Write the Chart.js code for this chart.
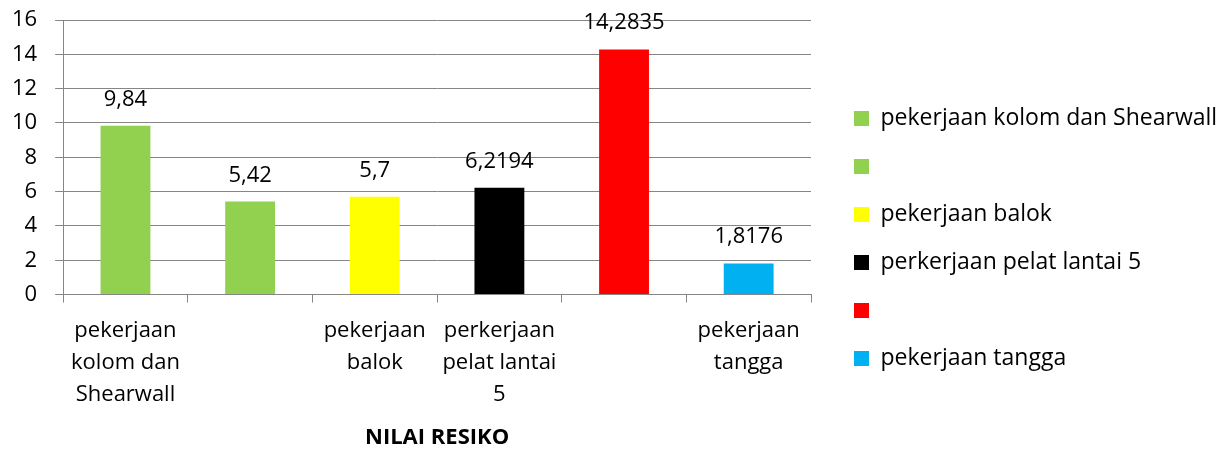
<!DOCTYPE html>
<html>
<head>
<meta charset="utf-8">
<script src="https://cdn.jsdelivr.net/npm/chart.js@4.4.1/dist/chart.umd.min.js"></script>
<style>
  html, body { margin: 0; padding: 0; background: #fff; }
  #wrap { width: 1229px; height: 449px; position: relative; }
</style>
</head>
<body>
<div id="wrap"><canvas id="riskChart"></canvas></div>
<script>
// data
const categories = [
  ['pekerjaan', 'kolom dan', 'Shearwall'],
  '',
  ['pekerjaan', 'balok'],
  ['perkerjaan', 'pelat lantai', '5'],
  '',
  ['pekerjaan', 'tangga']
];
const legendNames = [
  'pekerjaan kolom dan Shearwall',
  '',
  'pekerjaan balok',
  'perkerjaan pelat lantai 5',
  '',
  'pekerjaan tangga'
];
const nilaiResiko = [9.84, 5.42, 5.7, 6.2194, 14.2835, 1.8176];
const valueLabels = ['9,84', '5,42', '5,7', '6,2194', '14,2835', '1,8176'];
const barColors = ['#92D050', '#92D050', '#FFFF00', '#000000', '#FF0000', '#00B0F0'];
const yTicks = [0, 2, 4, 6, 8, 10, 12, 14, 16];

const FONT = "'Open Sans', sans-serif";
const GRID = '#868686';

// values written above each bar
const barValues = {
  id: 'barValues',
  afterDatasetsDraw(chart) {
    const ctx = chart.ctx;
    const meta = chart.getDatasetMeta(0);
    ctx.save();
    ctx.font = '22px ' + FONT;
    ctx.fillStyle = '#000';
    ctx.textAlign = 'center';
    ctx.textBaseline = 'alphabetic';
    meta.data.forEach((bar, i) => {
      ctx.fillText(valueLabels[i], bar.x, bar.y - 20);
    });
    ctx.restore();
  }
};

// legend sits a bit right of and below where chart.js puts it
const legendPlace = {
  id: 'legendPlace',
  beforeLayout(chart) {
    const lg = chart.legend;
    if (lg && !lg._patched) {
      const orig = lg.fit;
      lg.fit = function () { orig.call(this); this.width = 418; };
      lg._patched = true;
    }
  },
  afterLayout(chart) {
    const lg = chart.legend;
    lg.left += 18;
    lg.right += 18;
    lg.top += 13;
    lg.bottom += 13;
  }
};

new Chart(document.getElementById('riskChart'), {
  type: 'bar',
  data: {
    labels: categories,
    datasets: [{
      label: 'NILAI RESIKO',
      data: nilaiResiko,
      backgroundColor: barColors,
      borderWidth: 0,
      barPercentage: 0.4,
      categoryPercentage: 1.0
    }]
  },
  options: {
    responsive: true,
    maintainAspectRatio: false,
    animation: false,
    layout: { padding: { left: -6, top: 0, right: 0, bottom: -2 } },
    plugins: {
      tooltip: { enabled: false },
      legend: {
        position: 'right',
        labels: {
          boxWidth: 15,
          boxHeight: 15,
          padding: 25,
          color: '#000',
          font: { family: FONT, size: 23 },
          generateLabels: () => legendNames.map((name, i) => ({
            text: name,
            fillStyle: barColors[i],
            strokeStyle: barColors[i],
            lineWidth: 0,
            hidden: false,
            index: i
          }))
        }
      }
    },
    scales: {
      x: {
        grid: {
          offset: true,
          drawOnChartArea: false,
          drawTicks: true,
          tickLength: 8,
          color: GRID
        },
        border: { color: GRID },
        ticks: {
          color: '#000',
          padding: 12,
          maxRotation: 0,
          autoSkip: false,
          font: { family: FONT, size: 22, lineHeight: 1.455 }
        },
        title: {
          display: true,
          text: 'NILAI RESIKO',
          color: '#000',
          padding: { top: 2, bottom: 0 },
          font: { family: FONT, size: 22, weight: 'bold' }
        }
      },
      y: {
        min: 0,
        max: 16,
        afterBuildTicks(axis) { axis.ticks = yTicks.map(v => ({ value: v })); },
        // the wide label gap should not push the plot top down
        afterFit(axis) { axis.paddingTop = 20; },
        grid: { color: GRID, tickLength: 8 },
        border: { color: GRID },
        ticks: {
          color: '#000',
          padding: 18,
          font: { family: FONT, size: 22 }
        }
      }
    }
  },
  plugins: [barValues, legendPlace]
});
</script>
</body>
</html>
